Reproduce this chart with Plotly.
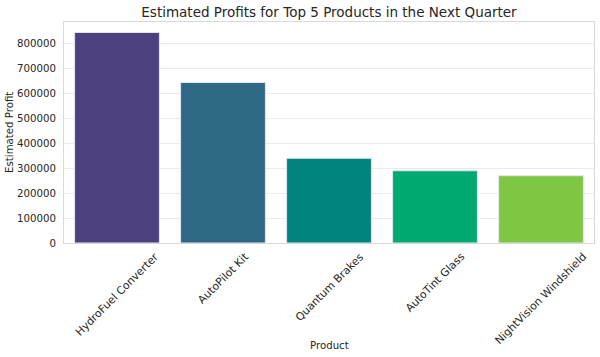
import plotly.graph_objects as go

products = ["HydroFuel Converter", "AutoPilot Kit", "Quantum Brakes", "AutoTint Glass", "NightVision Windshield"]
profits = [845000, 644000, 340000, 290000, 270000]
colors = ["#4C407E", "#2E6885", "#00847D", "#00A970", "#7FC742"]
yticks = [0, 100000, 200000, 300000, 400000, 500000, 600000, 700000, 800000]

TXT = "#262626"
FS = 10.2

fig = go.Figure(go.Bar(
    x=list(range(len(products))), y=profits,
    marker=dict(color=colors, line=dict(color="#E6E3F0", width=1)),
    width=0.8,
))

annotations = []
for i, p in enumerate(products):
    annotations.append(dict(
        x=i, y=-0.02, xref="x", yref="paper", text=p, showarrow=False,
        textangle=-45, xanchor="center", yanchor="top",
        font=dict(size=10.8, color=TXT),
    ))
annotations.append(dict(x=0.5, y=-0.43, xref="paper", yref="paper", text="Product",
                        showarrow=False, xanchor="center", yanchor="top",
                        font=dict(size=FS, color=TXT)))
annotations.append(dict(x=-0.103, y=0.5, xref="paper", yref="paper", text="Estimated Profit",
                        showarrow=False, xanchor="center", yanchor="middle", textangle=-90,
                        font=dict(size=FS, color=TXT)))

fig.update_layout(
    width=600, height=357,
    margin=dict(l=64, r=6, t=22, b=114, autoexpand=False),
    paper_bgcolor="white", plot_bgcolor="white",
    font=dict(family="DejaVu Sans", size=FS, color=TXT),
    title=dict(text="Estimated Profits for Top 5 Products in the Next Quarter",
               x=0.5, xref="paper", xanchor="center", y=1 - 12.5 / 357, yanchor="middle",
               font=dict(size=13.5, color=TXT)),
    showlegend=False,
    annotations=annotations,
)
fig.update_xaxes(
    range=[-0.5, 4.5], showticklabels=False, automargin=False,
    showgrid=False, showline=True, linecolor="#D9D9D9", linewidth=1, mirror=True,
    ticks="",
)
fig.update_yaxes(
    range=[0, 887000], tickmode="array", tickvals=yticks,
    ticktext=[str(v) for v in yticks], automargin=False,
    showgrid=True, gridcolor="#EBEBEB", gridwidth=1,
    showline=True, linecolor="#D9D9D9", linewidth=1, mirror=True,
    zeroline=False, ticklabelstandoff=5,
    tickfont=dict(size=FS, color=TXT), ticks="",
)

fig.write_html("out.html", config={"displayModeBar": False},
               post_script="document.body.style.margin='0';document.body.style.overflow='hidden';")
